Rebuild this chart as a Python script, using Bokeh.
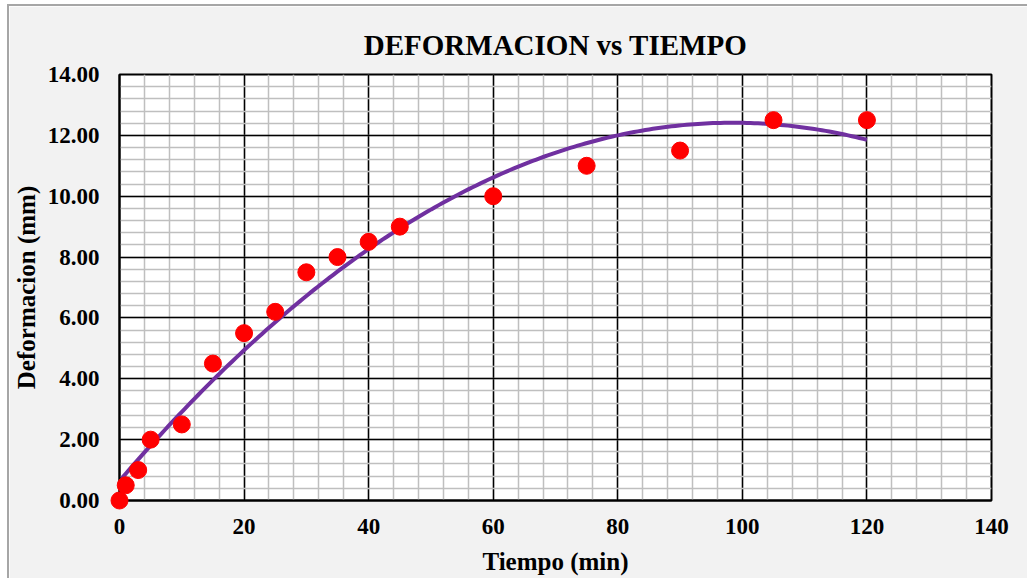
import numpy as np
from bokeh.plotting import figure
from bokeh.models import FixedTicker, NumeralTickFormatter
from bokeh.embed import file_html
from bokeh.resources import INLINE

# Data
tiempo = [0, 1, 3, 5, 10, 15, 20, 25, 30, 35, 40, 45, 60, 75, 90, 105, 120]
deformacion = [0.0, 0.5, 1.0, 2.0, 2.5, 4.5, 5.5, 6.2, 7.5, 8.0, 8.5, 9.0, 10.0, 11.0, 11.5, 12.5, 12.5]
x_ticks = [0, 20, 40, 60, 80, 100, 120, 140]
y_ticks = [0, 2, 4, 6, 8, 10, 12, 14]

# Polynomial (order 2) trendline, as in the spreadsheet chart
coef = np.polyfit(tiempo, deformacion, 2)
xt = np.linspace(min(tiempo), max(tiempo), 200)
yt = np.polyval(coef, xt)

FONT = "Liberation Serif"
BG = "#F2F2F2"

p = figure(width=1020, height=574, x_range=(0, 140), y_range=(0, 14),
           output_backend="svg", toolbar_location=None,
           min_border_left=107, min_border_top=68, min_border_right=38, min_border_bottom=80,
           background_fill_color="white", border_fill_color=BG)
p.margin = (4, 0, 0, 7)
p.styles = {"border-left": "2px solid #A6A6A6", "border-top": "2px solid #A6A6A6"}

p.title.text = "DEFORMACION vs TIEMPO"
p.title.align = "center"
p.title.text_font = FONT
p.title.text_font_size = "29px"
p.title.text_font_style = "bold"
p.title.text_color = "black"
p.title.standoff = 27

p.outline_line_color = "black"
p.outline_line_width = 2

for ax, ticks, minor in ((p.xaxis, x_ticks, list(range(0, 141, 4))),
                         (p.yaxis, y_ticks, [round(v * 0.4, 2) for v in range(0, 36)])):
    ax.ticker = FixedTicker(ticks=ticks, minor_ticks=minor)
    ax.major_tick_out = 0
    ax.major_tick_in = 0
    ax.minor_tick_out = 0
    ax.minor_tick_in = 0
    ax.axis_line_color = "black"
    ax.axis_line_width = 2
    ax.major_label_text_font = FONT
    ax.major_label_text_font_size = "23px"
    ax.major_label_text_font_style = "bold"
    ax.major_label_text_color = "black"
    ax.axis_label_text_font = FONT
    ax.axis_label_text_font_size = "25px"
    ax.axis_label_text_font_style = "bold"
    ax.axis_label_text_color = "black"

p.xaxis.axis_label = "Tiempo (min)"
p.yaxis.axis_label = "Deformacion (mm)"
p.xaxis.formatter = NumeralTickFormatter(format="0")
p.yaxis.formatter = NumeralTickFormatter(format="0.00")
p.yaxis.major_label_standoff = 20
p.xaxis.major_label_standoff = 18
p.yaxis.axis_label_standoff = 5
p.xaxis.axis_label_standoff = 11

for g in (p.xgrid, p.ygrid):
    g.grid_line_color = "black"
    g.grid_line_width = 1.5
    g.minor_grid_line_color = "#BFBFBF"
    g.minor_grid_line_width = 1.5

p.line(xt, yt, line_color="#7030A0", line_width=4)
p.scatter(tiempo, deformacion, size=17, fill_color="#FF0000", line_color="#FF0000", level="overlay")

open("out.html", "w").write(file_html(p, INLINE))
